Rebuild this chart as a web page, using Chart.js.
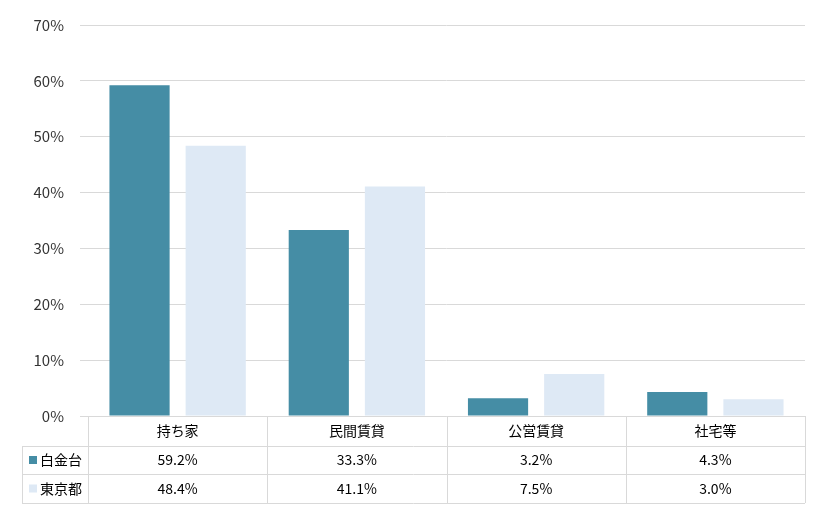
<!DOCTYPE html>
<html><head><meta charset="utf-8">
<script src="https://cdn.jsdelivr.net/npm/chart.js@4"></script>
<style>html,body{margin:0;padding:0;background:#fff}#w{width:820px;height:510px}</style>
</head><body><div id="w"><canvas id="c"></canvas></div>
<script>
const categories = ["持ち家","民間賃貸","公営賃貸","社宅等"];
const seriesNames = ["白金台","東京都"];
const shirokanedai = [59.2,33.3,3.2,4.3];
const tokyo = [48.4,41.1,7.5,3.0];
const colors = ["#458DA5","#DEE9F5"];
const FONT = "'Noto Sans CJK JP','DejaVu Sans',sans-serif";

const tablePlugin = {
  id:'table',
  afterDraw(chart){
    const ctx = chart.ctx, a = chart.chartArea, x = chart.scales.x;
    const rows = [a.bottom, a.bottom+30, a.bottom+58, a.bottom+87];
    const left = 22;
    ctx.save();
    ctx.strokeStyle = "#d9d9d9"; ctx.lineWidth = 1;
    const n = categories.length, w = (a.right-a.left)/n;
    ctx.beginPath();
    // horizontal lines
    ctx.moveTo(a.left, rows[0]+0.5); ctx.lineTo(a.right, rows[0]+0.5);
    for (let i=1;i<4;i++){ ctx.moveTo(left, rows[i]+0.5); ctx.lineTo(a.right, rows[i]+0.5); }
    // vertical lines
    for (let i=0;i<=n;i++){ const xx=Math.round(a.left+i*w)+0.5; ctx.moveTo(xx, rows[0]); ctx.lineTo(xx, rows[3]); }
    ctx.moveTo(left+0.5, rows[1]); ctx.lineTo(left+0.5, rows[3]);
    ctx.stroke();
    ctx.fillStyle="#000"; ctx.font="14px "+FONT; ctx.textAlign="center"; ctx.textBaseline="middle";
    categories.forEach((c,i)=>ctx.fillText(c, x.getPixelForValue(i), (rows[0]+rows[1])/2));
    [shirokanedai,tokyo].forEach((arr,r)=>{
      const cy=(rows[r+1]+rows[r+2])/2;
      arr.forEach((v,i)=>ctx.fillText(v.toFixed(1)+"%", x.getPixelForValue(i), cy));
      ctx.fillStyle=colors[r]; ctx.fillRect(left+7, cy-4, 8, 8);
      ctx.fillStyle="#000"; ctx.textAlign="left"; ctx.fillText(seriesNames[r], left+18, cy);
      ctx.textAlign="center";
    });
    ctx.restore();
  }
};

new Chart(document.getElementById('c'),{
  type:'bar',
  data:{labels:categories,datasets:[
    {label:seriesNames[0],data:shirokanedai,backgroundColor:colors[0]},
    {label:seriesNames[1],data:tokyo,backgroundColor:colors[1]}]},
  options:{
    responsive:true,maintainAspectRatio:false,animation:false,
    datasets:{bar:{categoryPercentage:0.85,barPercentage:0.79}},
    layout:{padding:{top:8,right:15,bottom:94,left:0}},
    plugins:{legend:{display:false},tooltip:{enabled:false}},
    scales:{
      x:{grid:{display:false},border:{display:false},ticks:{display:false},afterFit(s){s.height=0;}},
      y:{min:0,max:70,ticks:{stepSize:10,callback:v=>v+"%",color:"#333",font:{size:15,family:FONT},padding:16},
         grid:{color:"#d9d9d9"},border:{display:false},afterFit(s){s.width=88;}}
    }
  },
  plugins:[tablePlugin]
});
</script></body></html>
